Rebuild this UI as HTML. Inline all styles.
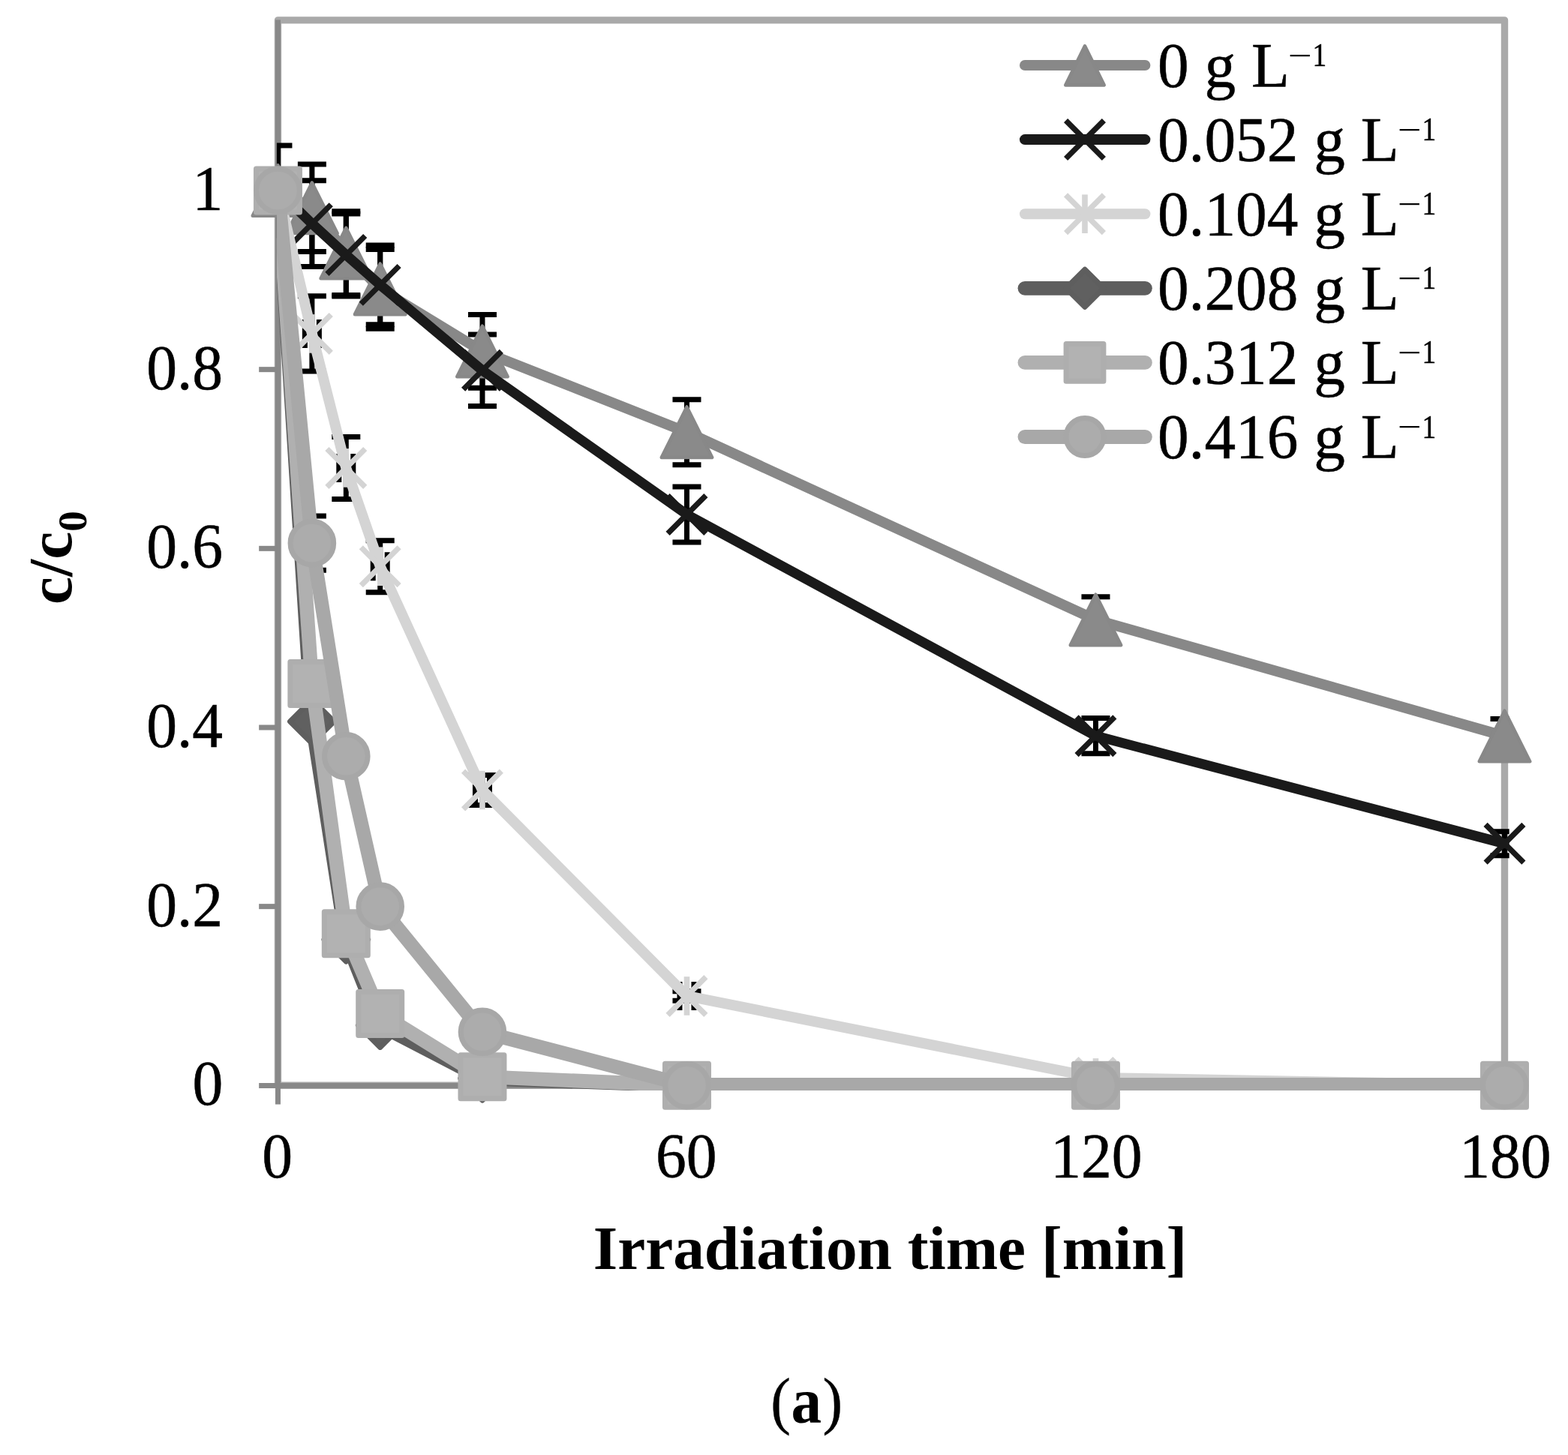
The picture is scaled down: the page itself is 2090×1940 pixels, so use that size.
<!DOCTYPE html>
<html lang="en">
<head>
<meta charset="utf-8">
<title>Irradiation time chart (a)</title>
<style>
html,body{margin:0;padding:0;background:#fff;}
body{width:2090px;height:1940px;overflow:hidden;}
svg{display:block;}
text{font-family:"Liberation Serif",serif;fill:#000;}
.t{font-size:83.33px;}
.b{font-weight:bold;}
.r{stroke:#000;stroke-width:0.5px;}
</style>
</head>
<body>
<svg width="2090" height="1940" viewBox="0 0 2090 1940" role="img" aria-label="c/c0 versus irradiation time">
<defs><clipPath id="pc"><rect x="368.9" y="20" width="1642.8" height="1433.9"/></clipPath></defs>
<rect x="0" y="0" width="2090" height="1940" fill="#ffffff"/>
<g id="plot-border"><rect x="370.45" y="26.9" width="1635.05" height="1420.4" fill="none" stroke="#a9a9a9" stroke-width="9.4" stroke-linejoin="round"/></g>
<g id="axes" stroke="#888888" stroke-width="7" fill="none">
<path d="M370.45 26.4L370.45 1472.6"/>
<path d="M345.15 1447.5L2005.5 1447.5"/>
<path d="M345.15 1208.64L370.45 1208.64"/>
<path d="M345.15 969.98L370.45 969.98"/>
<path d="M345.15 731.32L370.45 731.32"/>
<path d="M345.15 492.66L370.45 492.66"/>
<path d="M345.15 254L370.45 254"/>
<path d="M915.47 1447.3L915.47 1472.6"/>
<path d="M1460.48 1447.3L1460.48 1472.6"/>
<path d="M2005.5 1447.3L2005.5 1472.6"/>
</g>
<g id="errorbars" clip-path="url(#pc)" stroke="#000000" stroke-width="7" fill="none">
<path d="M370.45 193.98L370.45 314.02M351.45 193.98L389.45 193.98M351.45 314.02L389.45 314.02"/>
<path d="M415.87 219.04L415.87 335.5M396.87 219.04L434.87 219.04M396.87 335.5L434.87 335.5"/>
<path d="M461.29 281.68L461.29 393.38M442.29 281.68L480.29 281.68M442.29 393.38L480.29 393.38"/>
<path d="M506.7 332.52L506.7 438.25M487.7 332.52L525.7 332.52M487.7 438.25L525.7 438.25"/>
<path d="M642.96 419.51L642.96 517.36M623.96 419.51L661.96 419.51M623.96 517.36L661.96 517.36"/>
<path d="M915.47 532.75L915.47 619.63M896.47 532.75L934.47 532.75M896.47 619.63L934.47 619.63"/>
<path d="M1460.48 795.64L1460.48 857.21M1441.48 795.64L1479.48 795.64M1441.48 857.21L1479.48 857.21"/>
<path d="M2005.5 958.52L2005.5 1004.35M1986.5 958.52L2024.5 958.52M1986.5 1004.35L2024.5 1004.35"/>
<path d="M415.87 240.87L415.87 355.43M396.87 240.87L434.87 240.87M396.87 355.43L434.87 355.43"/>
<path d="M461.29 284.91L461.29 394.93M442.29 284.91L480.29 284.91M442.29 394.93L480.29 394.93"/>
<path d="M506.7 327.03L506.7 432.76M487.7 327.03L525.7 327.03M487.7 432.76L525.7 432.76"/>
<path d="M642.96 446.12L642.96 541.59M623.96 446.12L661.96 446.12M623.96 541.59L661.96 541.59"/>
<path d="M915.47 648.98L915.47 722.97M896.47 648.98L934.47 648.98M896.47 722.97L934.47 722.97"/>
<path d="M1460.48 957.57L1460.48 1004.82M1441.48 957.57L1479.48 957.57M1441.48 1004.82L1479.48 1004.82"/>
<path d="M2005.5 1108.64L2005.5 1140.86M1986.5 1108.64L2024.5 1108.64M1986.5 1140.86L2024.5 1140.86"/>
<path d="M415.87 394.81L415.87 495.05M396.87 394.81L434.87 394.81M396.87 495.05L434.87 495.05"/>
<path d="M406.37 444.93L425.37 444.93M406.37 425.93L406.37 463.93M425.37 425.93L425.37 463.93"/>
<path d="M461.29 582.4L461.29 665.45M442.29 582.4L480.29 582.4M442.29 665.45L480.29 665.45"/>
<path d="M451.79 623.92L470.79 623.92M451.79 604.92L451.79 642.92M470.79 604.92L470.79 642.92"/>
<path d="M506.7 720.7L506.7 789.67M487.7 720.7L525.7 720.7M487.7 789.67L525.7 789.67"/>
<path d="M497.2 755.19L516.2 755.19M497.2 736.19L497.2 774.19M516.2 736.19L516.2 774.19"/>
<path d="M642.96 1033.58L642.96 1073.44M623.96 1033.58L661.96 1033.58M623.96 1073.44L661.96 1073.44"/>
<path d="M633.46 1053.51L652.46 1053.51M633.46 1034.51L633.46 1072.51M652.46 1034.51L652.46 1072.51"/>
<path d="M915.47 1321.76L915.47 1334.18M896.47 1321.76L934.47 1321.76M896.47 1334.18L934.47 1334.18"/>
<path d="M905.97 1327.97L924.97 1327.97M905.97 1308.97L905.97 1346.97M924.97 1308.97L924.97 1346.97"/>
<path d="M1460.48 1433.34L1460.48 1440.5M1441.48 1433.34L1479.48 1433.34M1441.48 1440.5L1479.48 1440.5"/>
<path d="M1450.98 1436.92L1469.98 1436.92M1450.98 1417.92L1450.98 1455.92M1469.98 1417.92L1469.98 1455.92"/>
<path d="M1996 1446.82L2015 1446.82M1996 1427.82L1996 1465.82M2015 1427.82L2015 1465.82"/>
<path d="M415.87 688.12L415.87 760.2M396.87 688.12L434.87 688.12M396.87 760.2L434.87 760.2"/>
</g>
<g id="series1">
<polyline clip-path="url(#pc)" points="370.45,254 415.87,277.27 461.29,337.53 506.7,385.38 642.96,468.44 915.47,576.19 1460.48,826.43 2005.5,981.44" fill="none" stroke="#888888" stroke-width="14" stroke-linejoin="round" stroke-linecap="round"/>
<polygon points="370.45,220.25 404.2,287.75 336.7,287.75" fill="#8a8a8a" stroke="#888888" stroke-width="4.5" stroke-linejoin="round"/>
<polygon points="415.87,243.52 449.62,311.02 382.12,311.02" fill="#8a8a8a" stroke="#888888" stroke-width="4.5" stroke-linejoin="round"/>
<polygon points="461.29,303.78 495.04,371.28 427.54,371.28" fill="#8a8a8a" stroke="#888888" stroke-width="4.5" stroke-linejoin="round"/>
<polygon points="506.7,351.63 540.45,419.13 472.95,419.13" fill="#8a8a8a" stroke="#888888" stroke-width="4.5" stroke-linejoin="round"/>
<polygon points="642.96,434.69 676.71,502.19 609.21,502.19" fill="#8a8a8a" stroke="#888888" stroke-width="4.5" stroke-linejoin="round"/>
<polygon points="915.47,542.44 949.22,609.94 881.72,609.94" fill="#8a8a8a" stroke="#888888" stroke-width="4.5" stroke-linejoin="round"/>
<polygon points="1460.48,792.68 1494.23,860.18 1426.73,860.18" fill="#8a8a8a" stroke="#888888" stroke-width="4.5" stroke-linejoin="round"/>
<polygon points="2005.5,947.69 2039.25,1015.19 1971.75,1015.19" fill="#8a8a8a" stroke="#888888" stroke-width="4.5" stroke-linejoin="round"/>
</g>
<g id="series2">
<polyline clip-path="url(#pc)" points="370.45,254 415.87,298.15 461.29,339.92 506.7,379.89 642.96,493.85 915.47,685.97 1460.48,981.2 2005.5,1124.75" fill="none" stroke="#1a1a1a" stroke-width="13.2" stroke-linejoin="round" stroke-linecap="round"/>
<path d="M345.05 228.6L395.85 279.4M345.05 279.4L395.85 228.6" stroke="#1a1a1a" stroke-width="7.3" fill="none"/>
<path d="M390.47 272.75L441.27 323.55M390.47 323.55L441.27 272.75" stroke="#1a1a1a" stroke-width="7.3" fill="none"/>
<path d="M435.89 314.52L486.69 365.32M435.89 365.32L486.69 314.52" stroke="#1a1a1a" stroke-width="7.3" fill="none"/>
<path d="M481.3 354.49L532.1 405.29M481.3 405.29L532.1 354.49" stroke="#1a1a1a" stroke-width="7.3" fill="none"/>
<path d="M617.56 468.45L668.36 519.25M617.56 519.25L668.36 468.45" stroke="#1a1a1a" stroke-width="7.3" fill="none"/>
<path d="M890.07 660.57L940.87 711.37M890.07 711.37L940.87 660.57" stroke="#1a1a1a" stroke-width="7.3" fill="none"/>
<path d="M1435.08 955.8L1485.88 1006.6M1435.08 1006.6L1485.88 955.8" stroke="#1a1a1a" stroke-width="7.3" fill="none"/>
<path d="M1980.1 1099.35L2030.9 1150.15M1980.1 1150.15L2030.9 1099.35" stroke="#1a1a1a" stroke-width="7.3" fill="none"/>
</g>
<g id="series3">
<polyline clip-path="url(#pc)" points="370.45,254 415.87,444.93 461.29,623.92 506.7,755.19 642.96,1053.51 915.47,1327.97 1460.48,1436.92 2005.5,1446.82" fill="none" stroke="#d4d4d4" stroke-width="14" stroke-linejoin="round" stroke-linecap="round"/>
<path d="M345.05 228.6L395.85 279.4M345.05 279.4L395.85 228.6" stroke="#d4d4d4" stroke-width="7.3" fill="none"/><path d="M370.45 228.2L370.45 279.8" stroke="#d4d4d4" stroke-width="7.6" fill="none"/>
<path d="M390.47 419.53L441.27 470.33M390.47 470.33L441.27 419.53" stroke="#d4d4d4" stroke-width="7.3" fill="none"/><path d="M415.87 419.13L415.87 470.73" stroke="#d4d4d4" stroke-width="7.6" fill="none"/>
<path d="M435.89 598.52L486.69 649.32M435.89 649.32L486.69 598.52" stroke="#d4d4d4" stroke-width="7.3" fill="none"/><path d="M461.29 598.12L461.29 649.72" stroke="#d4d4d4" stroke-width="7.6" fill="none"/>
<path d="M481.3 729.79L532.1 780.59M481.3 780.59L532.1 729.79" stroke="#d4d4d4" stroke-width="7.3" fill="none"/><path d="M506.7 729.39L506.7 780.99" stroke="#d4d4d4" stroke-width="7.6" fill="none"/>
<path d="M617.56 1028.11L668.36 1078.91M617.56 1078.91L668.36 1028.11" stroke="#d4d4d4" stroke-width="7.3" fill="none"/><path d="M642.96 1027.71L642.96 1079.31" stroke="#d4d4d4" stroke-width="7.6" fill="none"/>
<path d="M890.07 1302.57L940.87 1353.37M890.07 1353.37L940.87 1302.57" stroke="#d4d4d4" stroke-width="7.3" fill="none"/><path d="M915.47 1302.17L915.47 1353.77" stroke="#d4d4d4" stroke-width="7.6" fill="none"/>
<path d="M1435.08 1411.52L1485.88 1462.32M1435.08 1462.32L1485.88 1411.52" stroke="#d4d4d4" stroke-width="7.3" fill="none"/><path d="M1460.48 1411.12L1460.48 1462.72" stroke="#d4d4d4" stroke-width="7.6" fill="none"/>
<path d="M1980.1 1421.42L2030.9 1472.22M1980.1 1472.22L2030.9 1421.42" stroke="#d4d4d4" stroke-width="7.3" fill="none"/><path d="M2005.5 1421.02L2005.5 1472.62" stroke="#d4d4d4" stroke-width="7.6" fill="none"/>
</g>
<g id="series4">
<polyline clip-path="url(#pc)" points="370.45,254 415.87,961.98 461.29,1252.79 506.7,1367.11 642.96,1437.75 915.47,1447.3 1460.48,1447.3 2005.5,1447.3" fill="none" stroke="#5e5e5e" stroke-width="18.8" stroke-linejoin="round" stroke-linecap="round"/>
<polygon points="370.45,225.9 398.55,254 370.45,282.1 342.35,254" fill="#606060" stroke="#5e5e5e" stroke-width="7" stroke-linejoin="round"/>
<polygon points="415.87,932.68 445.17,961.98 415.87,991.28 386.57,961.98" fill="#606060" stroke="#5e5e5e" stroke-width="7" stroke-linejoin="round"/>
<polygon points="461.29,1223.49 490.59,1252.79 461.29,1282.09 431.99,1252.79" fill="#606060" stroke="#5e5e5e" stroke-width="7" stroke-linejoin="round"/>
<polygon points="506.7,1337.81 536,1367.11 506.7,1396.41 477.4,1367.11" fill="#606060" stroke="#5e5e5e" stroke-width="7" stroke-linejoin="round"/>
<polygon points="642.96,1408.45 672.26,1437.75 642.96,1467.05 613.66,1437.75" fill="#606060" stroke="#5e5e5e" stroke-width="7" stroke-linejoin="round"/>
<polygon points="915.47,1419.2 943.57,1447.3 915.47,1475.4 887.37,1447.3" fill="#606060" stroke="#5e5e5e" stroke-width="7" stroke-linejoin="round"/>
<polygon points="1460.48,1419.2 1488.58,1447.3 1460.48,1475.4 1432.38,1447.3" fill="#606060" stroke="#5e5e5e" stroke-width="7" stroke-linejoin="round"/>
<polygon points="2005.5,1419.2 2033.6,1447.3 2005.5,1475.4 1977.4,1447.3" fill="#606060" stroke="#5e5e5e" stroke-width="7" stroke-linejoin="round"/>
</g>
<g id="series5">
<polyline clip-path="url(#pc)" points="370.45,254 415.87,911.51 461.29,1244.8 506.7,1351.48 642.96,1435.72 915.47,1447.3 1460.48,1447.3 2005.5,1447.3" fill="none" stroke="#b0b0b0" stroke-width="18.8" stroke-linejoin="round" stroke-linecap="round"/>
<rect x="341.45" y="225" width="58" height="58" fill="#b2b2b2" stroke="#aeaeae" stroke-width="7" stroke-linejoin="round"/>
<rect x="386.87" y="882.51" width="58" height="58" fill="#b2b2b2" stroke="#aeaeae" stroke-width="7" stroke-linejoin="round"/>
<rect x="432.29" y="1215.8" width="58" height="58" fill="#b2b2b2" stroke="#aeaeae" stroke-width="7" stroke-linejoin="round"/>
<rect x="477.7" y="1322.48" width="58" height="58" fill="#b2b2b2" stroke="#aeaeae" stroke-width="7" stroke-linejoin="round"/>
<rect x="613.96" y="1406.72" width="58" height="58" fill="#b2b2b2" stroke="#aeaeae" stroke-width="7" stroke-linejoin="round"/>
<rect x="886.47" y="1418.3" width="58" height="58" fill="#b2b2b2" stroke="#aeaeae" stroke-width="7" stroke-linejoin="round"/>
<rect x="1431.48" y="1418.3" width="58" height="58" fill="#b2b2b2" stroke="#aeaeae" stroke-width="7" stroke-linejoin="round"/>
<rect x="1976.5" y="1418.3" width="58" height="58" fill="#b2b2b2" stroke="#aeaeae" stroke-width="7" stroke-linejoin="round"/>
</g>
<g id="series6">
<polyline clip-path="url(#pc)" points="370.45,254 415.87,724.16 461.29,1008.28 506.7,1208.64 642.96,1375.82 915.47,1447.3 1460.48,1447.3 2005.5,1447.3" fill="none" stroke="#a8a8a8" stroke-width="18.8" stroke-linejoin="round" stroke-linecap="round"/>
<path clip-path="url(#pc)" d="M915.47 1438.55L2005.5 1438.55" fill="none" stroke="#a8a8a8" stroke-width="3"/>
<circle cx="370.45" cy="254" r="28.8" fill="#acacac" stroke="#a7a7a7" stroke-width="7"/>
<circle cx="415.87" cy="724.16" r="28.8" fill="#acacac" stroke="#a7a7a7" stroke-width="7"/>
<circle cx="461.29" cy="1008.28" r="28.8" fill="#acacac" stroke="#a7a7a7" stroke-width="7"/>
<circle cx="506.7" cy="1208.64" r="28.8" fill="#acacac" stroke="#a7a7a7" stroke-width="7"/>
<circle cx="642.96" cy="1375.82" r="28.8" fill="#acacac" stroke="#a7a7a7" stroke-width="7"/>
<circle cx="915.47" cy="1447.3" r="28.8" fill="#acacac" stroke="#a7a7a7" stroke-width="7"/>
<circle cx="1460.48" cy="1447.3" r="28.8" fill="#acacac" stroke="#a7a7a7" stroke-width="7"/>
<circle cx="2005.5" cy="1447.3" r="28.8" fill="#acacac" stroke="#a7a7a7" stroke-width="7"/>
</g>
<g id="ylabels">
<text class="t r" text-anchor="end" transform="translate(297.2 1473.3) scale(0.98 1.01)">0</text>
<text class="t r" text-anchor="end" transform="translate(297.2 1234.64) scale(0.98 1.01)">0.2</text>
<text class="t r" text-anchor="end" transform="translate(297.2 995.98) scale(0.98 1.01)">0.4</text>
<text class="t r" text-anchor="end" transform="translate(297.2 757.32) scale(0.98 1.01)">0.6</text>
<text class="t r" text-anchor="end" transform="translate(297.2 518.66) scale(0.98 1.01)">0.8</text>
<text class="t r" text-anchor="end" transform="translate(297.2 280) scale(0.98 1.01)">1</text>
</g>
<g id="xlabels">
<text class="t r" text-anchor="middle" transform="translate(369.75 1570.4) scale(0.98 1.01)">0</text>
<text class="t r" text-anchor="middle" transform="translate(914.77 1570.4) scale(0.98 1.01)">60</text>
<text class="t r" text-anchor="middle" transform="translate(1461.38 1570.4) scale(0.98 1.01)">120</text>
<text class="t r" text-anchor="middle" transform="translate(2006.4 1570.4) scale(0.98 1.01)">180</text>
</g>
<text id="xtitle" class="t b" x="790.8" y="1692">Irradiation time [min]</text>
<text id="ytitle" class="t b" transform="translate(95.3 805.9) rotate(-90)">c/c<tspan font-size="55px" dy="20">0</tspan></text>
<text id="caption" class="t" x="1027" y="1896.3"><tspan x="1027.2" y="1896.1" font-size="85.5px" textLength="26.6" lengthAdjust="spacingAndGlyphs" stroke="#000" stroke-width="0.4">(</tspan><tspan class="b" x="1054.6" y="1896.6" font-size="86.5px" textLength="40.6" lengthAdjust="spacingAndGlyphs">a</tspan><tspan x="1096.5" y="1896.1" font-size="85.5px" textLength="26.6" lengthAdjust="spacingAndGlyphs" stroke="#000" stroke-width="0.4">)</tspan></text>
<g id="legend">
<path d="M1366 87L1526.4 87" stroke="#888888" stroke-width="14" stroke-linecap="round" fill="none"/>
<polygon points="1446,61.25 1471.75,113.55 1420.25,113.55" fill="#8a8a8a" stroke="#888888" stroke-width="4.5" stroke-linejoin="round"/>
<text class="t r" transform="translate(1542.9 115.6) scale(1 1.01)">0 g L<tspan x="174.22" y="-26.34" font-size="44px" stroke-width="0.2" textLength="31.5" lengthAdjust="spacingAndGlyphs">−</tspan><tspan x="206.72" y="-27.33" font-size="44px" textLength="18.7" lengthAdjust="spacingAndGlyphs">1</tspan></text>
<path d="M1366 186.1L1526.4 186.1" stroke="#1a1a1a" stroke-width="14" stroke-linecap="round" fill="none"/>
<path d="M1420.6 160.7L1471.4 211.5M1420.6 211.5L1471.4 160.7" stroke="#1a1a1a" stroke-width="7.3" fill="none"/>
<text class="t r" transform="translate(1542.9 214.7) scale(1 1.01)">0.052 g L<tspan x="320.04" y="-26.34" font-size="44px" stroke-width="0.2" textLength="31.5" lengthAdjust="spacingAndGlyphs">−</tspan><tspan x="352.55" y="-27.33" font-size="44px" textLength="18.7" lengthAdjust="spacingAndGlyphs">1</tspan></text>
<path d="M1366 285.2L1526.4 285.2" stroke="#d4d4d4" stroke-width="14" stroke-linecap="round" fill="none"/>
<path d="M1420.6 259.8L1471.4 310.6M1420.6 310.6L1471.4 259.8" stroke="#d4d4d4" stroke-width="7.3" fill="none"/><path d="M1446 259.4L1446 311" stroke="#d4d4d4" stroke-width="7.6" fill="none"/>
<text class="t r" transform="translate(1542.9 313.8) scale(1 1.01)">0.104 g L<tspan x="320.04" y="-26.34" font-size="44px" stroke-width="0.2" textLength="31.5" lengthAdjust="spacingAndGlyphs">−</tspan><tspan x="352.55" y="-27.33" font-size="44px" textLength="18.7" lengthAdjust="spacingAndGlyphs">1</tspan></text>
<path d="M1366 384.3L1526.4 384.3" stroke="#5e5e5e" stroke-width="18.8" stroke-linecap="round" fill="none"/>
<polygon points="1446,359.2 1471.1,384.3 1446,409.4 1420.9,384.3" fill="#606060" stroke="#5e5e5e" stroke-width="7" stroke-linejoin="round"/>
<text class="t r" transform="translate(1542.9 412.9) scale(1 1.01)">0.208 g L<tspan x="320.04" y="-26.34" font-size="44px" stroke-width="0.2" textLength="31.5" lengthAdjust="spacingAndGlyphs">−</tspan><tspan x="352.55" y="-27.33" font-size="44px" textLength="18.7" lengthAdjust="spacingAndGlyphs">1</tspan></text>
<path d="M1366 483.4L1526.4 483.4" stroke="#b0b0b0" stroke-width="18.8" stroke-linecap="round" fill="none"/>
<rect x="1421.1" y="458.5" width="49.8" height="49.8" fill="#b2b2b2" stroke="#aeaeae" stroke-width="7" stroke-linejoin="round"/>
<text class="t r" transform="translate(1542.9 512) scale(1 1.01)">0.312 g L<tspan x="320.04" y="-26.34" font-size="44px" stroke-width="0.2" textLength="31.5" lengthAdjust="spacingAndGlyphs">−</tspan><tspan x="352.55" y="-27.33" font-size="44px" textLength="18.7" lengthAdjust="spacingAndGlyphs">1</tspan></text>
<path d="M1366 582.5L1526.4 582.5" stroke="#a8a8a8" stroke-width="18.8" stroke-linecap="round" fill="none"/>
<circle cx="1446" cy="582.5" r="25" fill="#acacac" stroke="#a7a7a7" stroke-width="7"/>
<text class="t r" transform="translate(1542.9 611.1) scale(1 1.01)">0.416 g L<tspan x="320.04" y="-26.34" font-size="44px" stroke-width="0.2" textLength="31.5" lengthAdjust="spacingAndGlyphs">−</tspan><tspan x="352.55" y="-27.33" font-size="44px" textLength="18.7" lengthAdjust="spacingAndGlyphs">1</tspan></text>
</g>
</svg>
</body>
</html>
